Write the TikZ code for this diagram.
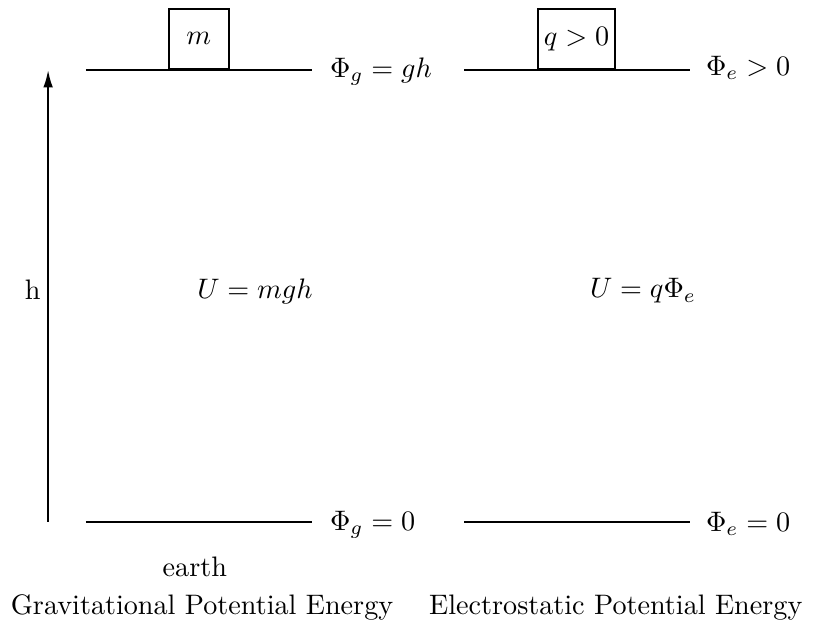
\documentclass[tikz,border=0pt]{standalone}
\usepackage{amsmath}
\usetikzlibrary{arrows.meta}
\begin{document}
\begin{tikzpicture}[
  level/.style={
    line width=0.8pt
  },
  charge/.style={
    draw,
    line width=0.6pt,
    minimum size=0.75cm,
    inner sep=2pt,
    anchor=south
  },
  height/.style={
    -{Latex[length=2.2mm,width=1.2mm]},
    line width=0.8pt
  },
  potential/.style={
    anchor=west,
    inner sep=0pt
  },
  label/.style={
    inner sep=1pt
  }
]

\path[use as bounding box] (0,0) rectangle (10.14,7.77);

% gravitational side
\coordinate (g0l) at (1.07,1.26);
\coordinate (g0r) at (3.89,1.26);
\coordinate (g1l) at (1.07,6.90);
\coordinate (g1r) at (3.89,6.90);
\coordinate (hbot) at (0.60,1.26);
\coordinate (htop) at (0.60,6.90);

\draw[level] (g1l) -- (g1r);
\draw[level] (g0l) -- (g0r);
\draw[height] (hbot) -- (htop);

\node[charge] (m) at (2.48,6.90) {$m$};
\node[potential] (phig1) at (4.11,6.88) {$\Phi_g = gh$};
\node[potential] (phig0) at (4.11,1.22) {$\Phi_g = 0$};
\node[label, anchor=east, inner sep=2.5pt] (hlab) at (0.60,4.16) {h};
\node[label] (ug) at (3.18,4.14) {$U = mgh$};
\node[label] (earth) at (2.43,0.70) {earth};

% electrostatic side
\coordinate (e0l) at (5.79,1.26);
\coordinate (e0r) at (8.60,1.26);
\coordinate (e1l) at (5.79,6.90);
\coordinate (e1r) at (8.60,6.90);

\draw[level] (e1l) -- (e1r);
\draw[level] (e0l) -- (e0r);

\node[charge] (q) at (7.19,6.90) {$q>0$};
\node[potential] (phie1) at (8.80,6.92) {$\Phi_e > 0$};
\node[potential] (phie0) at (8.80,1.24) {$\Phi_e = 0$};
\node[label] (ue) at (8.02,4.14) {$U = q\Phi_e$};

\node[label] (gcap) at (2.52,0.19) {Gravitational Potential Energy};
\node[label] (ecap) at (7.68,0.19) {Electrostatic Potential Energy};

\end{tikzpicture}
\end{document}
